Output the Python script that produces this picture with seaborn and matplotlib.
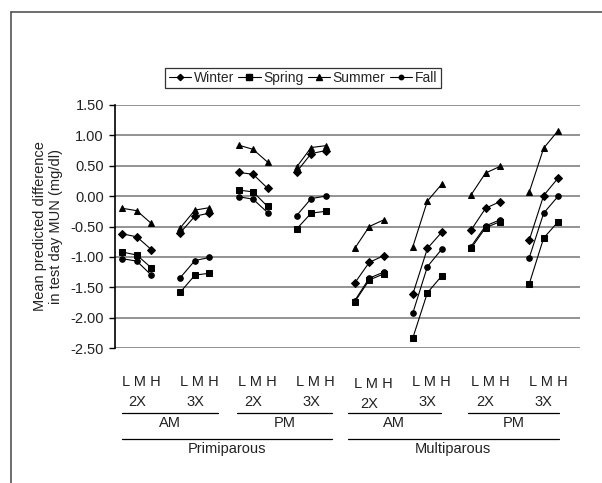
import numpy as np
import pandas as pd
import matplotlib
matplotlib.use("Agg")
import matplotlib.pyplot as plt
import matplotlib.transforms as mtransforms
from matplotlib.lines import Line2D
import seaborn as sns

# values per category: 8 groups x (L, M, H)
seasons = ["Winter", "Spring", "Summer", "Fall"]
winter = [-0.62, -0.67, -0.88, -0.60, -0.33, -0.28, 0.39, 0.36, 0.13, 0.40, 0.70, 0.75,
          -1.43, -1.09, -0.98, -1.61, -0.86, -0.59, -0.56, -0.20, -0.09, -0.73, 0.01, 0.30]
spring = [-0.92, -0.97, -1.18, -1.58, -1.30, -1.27, 0.10, 0.07, -0.17, -0.54, -0.28, -0.25,
          -1.74, -1.38, -1.28, -2.33, -1.59, -1.31, -0.86, -0.52, -0.42, -1.45, -0.69, -0.42]
summer = [-0.20, -0.24, -0.45, -0.52, -0.23, -0.19, 0.84, 0.77, 0.56, 0.48, 0.80, 0.83,
          -0.86, -0.50, -0.39, -0.83, -0.08, 0.20, 0.02, 0.38, 0.49, 0.06, 0.79, 1.08]
fall = [-1.03, -1.07, -1.30, -1.34, -1.06, -1.01, -0.01, -0.05, -0.27, -0.32, -0.04, 0.00,
        -1.72, -1.35, -1.25, -1.92, -1.16, -0.87, -0.83, -0.49, -0.39, -1.02, -0.28, 0.00]
levels = ["L", "M", "H"]
milkings = ["2X", "3X", "2X", "3X", "2X", "3X", "2X", "3X"]
times = ["AM", "PM", "AM", "PM"]
parities = ["Primiparous", "Multiparous"]

markers = {"Winter": "D", "Spring": "s", "Summer": "^", "Fall": "o"}
msizes = {"Winter": 4, "Spring": 4.5, "Summer": 5, "Fall": 4}

rows = []
for name, vals in zip(seasons, [winter, spring, summer, fall]):
    for i, v in enumerate(vals):
        g, k = divmod(i, 3)
        rows.append({"x": g * 4 + k, "value": v, "season": name, "group": g})
df = pd.DataFrame(rows)

sns.set_style("white")
plt.rcParams["font.family"] = ["Liberation Sans", "DejaVu Sans"]
plt.rcParams["font.size"] = 10.5

fig = plt.figure(figsize=(6.02, 4.83), dpi=100)
ax = fig.add_axes([115 / 602, 1 - 348 / 483, 465 / 602, 243 / 483])

for name in seasons:
    sub = df[df["season"] == name]
    sns.lineplot(data=sub, x="x", y="value", units="group", estimator=None,
                 color="black", lw=0.8, marker=markers[name], ms=msizes[name],
                 markeredgecolor="black", legend=False, ax=ax)

ax.set_xlim(-0.5, 31.5)
ax.set_ylim(-2.5, 1.5)
ax.set_yticks(np.arange(-2.5, 1.51, 0.5))
ax.set_yticklabels([f"{t:.2f}" for t in np.arange(-2.5, 1.51, 0.5)], fontsize=10.5, color="#222222")
ax.set_xticks([])
ax.set_xlabel("")
ax.set_ylabel("Mean predicted difference\nin test day MUN (mg/dl)", fontsize=10.5,
              color="#222222", labelpad=5, linespacing=1.25)
ax.grid(axis="y", color="#808080", lw=1.2)
ax.set_axisbelow(True)
for s in ["top", "right", "bottom"]:
    ax.spines[s].set_visible(False)
ax.spines["left"].set_color("black")
ax.spines["left"].set_linewidth(1.2)
ax.tick_params(axis="y", left=True, length=4, width=1, color="black", pad=4)

# hierarchical category labels below the plot
tr = mtransforms.blended_transform_factory(ax.transData, ax.transAxes)
for g in range(8):
    c = g * 4 + 1
    dy = -0.008 if g == 4 else 0
    ax.text(c + 0.3, -0.14 + dy, "L M H", transform=tr, ha="center", va="center",
            fontsize=10.5, color="#222222")
    ax.text(c, -0.222 + dy, milkings[g], transform=tr, ha="center", va="center",
            fontsize=10.5, color="#222222")
time_spans = [(0.0, 6.6), (7.9, 14.4), (15.5, 21.9), (23.8, 30.05)]
for (a, b), t in zip(time_spans, times):
    ax.plot([a, b], [-0.267, -0.267], transform=tr, color="black", lw=0.9, clip_on=False)
    ax.text((a + b) / 2, -0.31, t, transform=tr, ha="center", va="center",
            fontsize=10.5, color="#222222")
par_spans = [(0.0, 14.4), (15.5, 30.05)]
for (a, b), p in zip(par_spans, parities):
    ax.plot([a, b], [-0.374, -0.374], transform=tr, color="black", lw=0.9, clip_on=False)
    ax.text((a + b) / 2, -0.416, p, transform=tr, ha="center", va="center",
            fontsize=10.5, color="#222222")

handles = [Line2D([], [], color="black", lw=0.8, marker=markers[n], ms=msizes[n] - 0.8)
           for n in seasons]
leg = fig.legend(handles, seasons, loc="center", bbox_to_anchor=(303 / 602, 1 - 78 / 483),
                 ncol=4, frameon=True, fancybox=False, fontsize=10, handlelength=1.6,
                 handletextpad=0.2, columnspacing=0.3, borderpad=0.25, borderaxespad=0)
leg.get_frame().set_edgecolor("black")
leg.get_frame().set_linewidth(0.9)

# outer frame (top and left edges visible)
fig.add_artist(Line2D([11 / 602, 11 / 602], [0, 1 - 12 / 483], transform=fig.transFigure,
                      color="#555555", lw=1.2))
fig.add_artist(Line2D([11 / 602, 1], [1 - 12 / 483, 1 - 12 / 483], transform=fig.transFigure,
                      color="#555555", lw=1.2))

fig.savefig("out.png", dpi=100)
